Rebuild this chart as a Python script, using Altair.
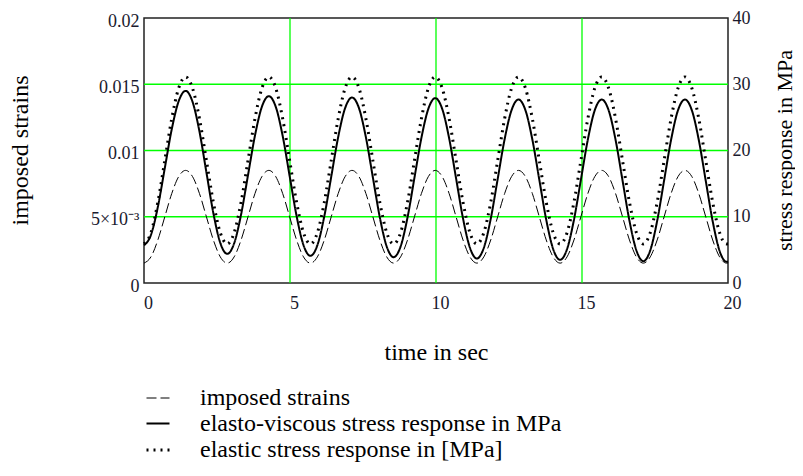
import altair as alt
import pandas as pd

# time samples (s)
time_s = [0, 0.2375, 0.475, 0.7125, 0.95, 1.1875, 1.425, 1.6625, 1.9, 2.1375, 2.375, 2.6125,
          2.85, 3.0875, 3.325, 3.5625, 3.8, 4.0375, 4.275, 4.5125, 4.75, 4.9875, 5.225, 5.4625,
          5.7, 5.9375, 6.175, 6.4125, 6.65, 6.8875, 7.125, 7.3625, 7.6, 7.8375, 8.075, 8.3125,
          8.55, 8.7875, 9.025, 9.2625, 9.5, 9.7375, 9.975, 10.2125, 10.45, 10.6875, 10.925, 11.1625,
          11.4, 11.6375, 11.875, 12.1125, 12.35, 12.5875, 12.825, 13.0625, 13.3, 13.5375, 13.775, 14.0125,
          14.25, 14.4875, 14.725, 14.9625, 15.2, 15.4375, 15.675, 15.9125, 16.15, 16.3875, 16.625, 16.8625,
          17.1, 17.3375, 17.575, 17.8125, 18.05, 18.2875, 18.525, 18.7625, 19.0, 19.2375, 19.475, 19.7125,
          19.95, 20.0]

# imposed strains (left axis)
imposed_strain = [0.0015, 0.00197, 0.00325, 0.0050, 0.00675, 0.00803, 0.0085, 0.00803, 0.00675, 0.0050, 0.00325, 0.00197,
                  0.0015, 0.00197, 0.00325, 0.0050, 0.00675, 0.00803, 0.0085, 0.00803, 0.00675, 0.0050, 0.00325, 0.00197,
                  0.0015, 0.00197, 0.00325, 0.0050, 0.00675, 0.00803, 0.0085, 0.00803, 0.00675, 0.0050, 0.00325, 0.00197,
                  0.0015, 0.00197, 0.00325, 0.0050, 0.00675, 0.00803, 0.0085, 0.00803, 0.00675, 0.0050, 0.00325, 0.00197,
                  0.0015, 0.00197, 0.00325, 0.0050, 0.00675, 0.00803, 0.0085, 0.00803, 0.00675, 0.0050, 0.00325, 0.00197,
                  0.0015, 0.00197, 0.00325, 0.0050, 0.00675, 0.00803, 0.0085, 0.00803, 0.00675, 0.0050, 0.00325, 0.00197,
                  0.0015, 0.00197, 0.00325, 0.0050, 0.00675, 0.00803, 0.0085, 0.00803, 0.00675, 0.0050, 0.00325, 0.00197,
                  0.0015, 0.00151]

# elasto-viscous stress response (MPa, right axis)
elasto_viscous_mpa = [5.7, 7.26, 11.5, 17.35, 23.2, 27.44, 29.0,
                      27.35, 22.85, 16.7, 10.55, 6.05, 4.4,
                      5.99, 10.35, 16.3, 22.25, 26.61, 28.2,
                      26.59, 22.18, 16.15, 10.13, 5.71, 4.1,
                      5.70, 10.08, 16.05, 22.03, 26.40, 28.0,
                      26.39, 21.98, 15.95, 9.93, 5.51, 3.9,
                      5.51, 9.9, 15.9, 21.9, 26.29, 27.9,
                      26.28, 21.85, 15.8, 9.75, 5.32, 3.7,
                      5.31, 9.7, 15.7, 21.7, 26.09, 27.7,
                      26.08, 21.65, 15.6, 9.55, 5.12, 3.5,
                      5.12, 9.55, 15.6, 21.65, 26.08, 27.7,
                      26.07, 21.6, 15.5, 9.4, 4.93, 3.3,
                      4.93, 9.4, 15.5, 21.6, 26.07, 27.7,
                      26.06, 21.58, 15.45, 9.33, 4.84, 3.2,
                      3.25]

# elastic stress response (MPa, right axis)
elastic_mpa = [5.9, 7.59, 12.2, 18.5, 24.8, 29.41, 31.1, 29.41, 24.8, 18.5, 12.2, 7.59,
               5.9, 7.59, 12.2, 18.5, 24.8, 29.41, 31.1, 29.41, 24.8, 18.5, 12.2, 7.59,
               5.9, 7.59, 12.2, 18.5, 24.8, 29.41, 31.1, 29.41, 24.8, 18.5, 12.2, 7.59,
               5.9, 7.59, 12.2, 18.5, 24.8, 29.41, 31.1, 29.41, 24.8, 18.5, 12.2, 7.59,
               5.9, 7.59, 12.2, 18.5, 24.8, 29.41, 31.1, 29.41, 24.8, 18.5, 12.2, 7.59,
               5.9, 7.59, 12.2, 18.5, 24.8, 29.41, 31.1, 29.41, 24.8, 18.5, 12.2, 7.59,
               5.9, 7.59, 12.2, 18.5, 24.8, 29.41, 31.1, 29.41, 24.8, 18.5, 12.2, 7.59,
               5.9, 5.92]

series_names = ["imposed strains",
                "elasto-viscous stress response in MPa",
                "elastic stress response in [MPa]"]

x_ticks = [0, 5, 10, 15, 20]
strain_ticks = [0, 0.005, 0.01, 0.015, 0.02]
stress_ticks = [0, 10, 20, 30, 40]
x_grid = [5, 10, 15]
strain_grid = [0.005, 0.01, 0.015]

rows = []
for t, e, v, s in zip(time_s, imposed_strain, elasto_viscous_mpa, elastic_mpa):
    rows.append({"time": t, "value": e, "series": series_names[0], "order": 0})
    rows.append({"time": t, "value": v, "series": series_names[1], "order": 1})
    rows.append({"time": t, "value": s, "series": series_names[2], "order": 2})
df = pd.DataFrame(rows)

FONT = "Liberation Serif"
GREEN = "#00ff00"
LABEL_COLOR = "#1a1a2e"

x_scale = alt.Scale(domain=[0, 20], nice=False, zero=False)
strain_scale = alt.Scale(domain=[0, 0.02], nice=False, zero=True)
stress_scale = alt.Scale(domain=[0, 40], nice=False, zero=True)

dash_scale = alt.Scale(domain=series_names, range=[[10, 4], [1, 0], [2, 5]])
width_scale = alt.Scale(domain=series_names, range=[1, 3, 2])

legend = alt.Legend(title=None, orient="none", legendX=1, legendY=368,
                    symbolType="stroke", symbolSize=529, symbolStrokeColor="black",
                    labelFont=FONT, labelFontSize=24, labelColor="black",
                    labelOffset=29, rowPadding=1, padding=0, labelLimit=700)

x_enc = alt.X("time:Q", scale=x_scale,
              axis=alt.Axis(values=x_ticks, title="time in sec", grid=False,
                            ticks=False, domain=False,
                            labelFlush=False, labelOffset=4, labelPadding=11,
                            labelFont=FONT, labelFontSize=18, labelColor=LABEL_COLOR,
                            titleFont=FONT, titleFontSize=24, titleFontWeight="normal",
                            titleColor="black", titleX=292, titleY=69,
                            titleBaseline="middle", titleAlign="center"))

# green grid lines
vgrid = alt.Chart(pd.DataFrame({"time": x_grid})).mark_rule(
    color=GREEN, strokeWidth=1.3
).encode(x=x_enc)

hgrid = alt.Chart(pd.DataFrame({"value": strain_grid})).mark_rule(
    color=GREEN, strokeWidth=1.3
).encode(y=alt.Y("value:Q", scale=strain_scale, axis=None))

strain_layer = alt.Chart(df).transform_filter(
    alt.datum.series == series_names[0]
).mark_line(color="black", interpolate="monotone").encode(
    x=x_enc,
    y=alt.Y("value:Q", scale=strain_scale,
            axis=alt.Axis(orient="left", values=strain_ticks,
                          labelExpr="datum.value == 0.005 ? '5×10⁻³' : format(datum.value, '~g')",
                          grid=False, ticks=False, domain=False, labelPadding=5, labelOffset=3,
                          labelFont=FONT, labelFontSize=18, labelColor=LABEL_COLOR,
                          title="imposed strains", titleFont=FONT, titleFontSize=24,
                          titleFontWeight="normal", titleColor="black",
                          titleX=-124, titleY=132, titleAngle=270,
                          titleAlign="center", titleBaseline="middle")),
    strokeDash=alt.StrokeDash("series:N", scale=dash_scale, legend=legend),
    strokeWidth=alt.StrokeWidth("series:N", scale=width_scale, legend=legend),
)

stress_layer = alt.Chart(df).transform_filter(
    alt.datum.series != series_names[0]
).mark_line(color="black", interpolate="monotone").encode(
    x=x_enc,
    y=alt.Y("value:Q", scale=stress_scale,
            axis=alt.Axis(orient="right", values=stress_ticks, format="d",
                          grid=False, ticks=False, domain=False,
                          labelPadding=4, labelOffset=0,
                          labelFont=FONT, labelFontSize=18, labelColor=LABEL_COLOR,
                          title="stress response in MPa", titleFont=FONT, titleFontSize=22,
                          titleFontWeight="normal", titleColor="black",
                          titleX=56, titleY=132, titleAngle=270,
                          titleAlign="center", titleBaseline="middle")),
    strokeDash=alt.StrokeDash("series:N", scale=dash_scale, legend=legend),
    strokeWidth=alt.StrokeWidth("series:N", scale=width_scale, legend=legend),
    order=alt.Order("order:Q"),
)

chart = alt.layer(vgrid, hgrid, strain_layer, stress_layer).resolve_scale(
    y="independent"
).properties(
    width=584, height=265,
    autosize=alt.AutoSizeParams(type="none"),
    padding={"left": 136, "top": 10, "right": 67, "bottom": 185},
    background="white",
).configure_view(stroke="#222222", strokeWidth=1.5)

chart.save("out.html", embed_options={"renderer": "svg", "actions": False})
